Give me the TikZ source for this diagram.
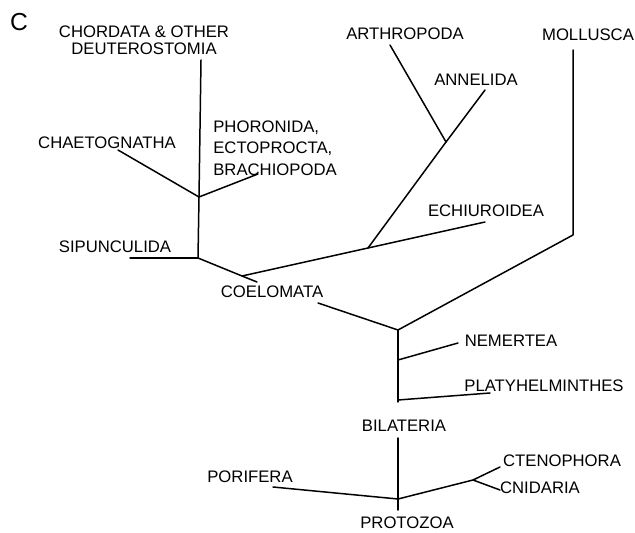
\documentclass[tikz,border=0pt]{standalone}
\usepackage{fontspec}
\setmainfont{Liberation Sans}
\usetikzlibrary{positioning}

\begin{document}
\begin{tikzpicture}[
x=0.02cm, y=-0.02cm,
taxon/.style={
    font=\fontsize{9.5}{9.7}\selectfont,
    inner sep=0pt
},
branch/.style={
    draw,
    line width=0.85pt,
    line cap=round,
    line join=round
}
]
\useasboundingbox (0,0) rectangle (635,533);

% labels
\node[font=\fontsize{14}{14}\selectfont, inner sep=0pt] (fig) at (19,22) {C};
\node[taxon, align=center] (chord) at (144,40) {CHORDATA \& OTHER\\DEUTEROSTOMIA};
\node[taxon] (chaet) at (107,143) {CHAETOGNATHA};
\node[taxon, align=left, anchor=west, font=\fontsize{9.5}{12.2}\selectfont] (phor) at (213,148) {PHORONIDA,\\ECTOPROCTA,\\BRACHIOPODA};
\node[taxon] (sipun) at (115,247) {SIPUNCULIDA};
\node[taxon] (coel) at (272,292) {COELOMATA};
\node[taxon] (arth) at (405,34) {ARTHROPODA};
\node[taxon] (anne) at (476,80) {ANNELIDA};
\node[taxon] (echi) at (486,211) {ECHIUROIDEA};
\node[taxon] (moll) at (588,35) {MOLLUSCA};
\node[taxon] (neme) at (511,341) {NEMERTEA};
\node[taxon] (platy) at (544,386) {PLATYHELMINTHES};
\node[taxon] (bila) at (404,426) {BILATERIA};
\node[taxon] (pori) at (250,477) {PORIFERA};
\node[taxon] (cten) at (562,461) {CTENOPHORA};
\node[taxon] (cnid) at (540,488) {CNIDARIA};
\node[taxon] (prot) at (407,523) {PROTOZOA};

% junctions
\coordinate (jDeu) at (199,197);
\coordinate (jSip) at (198,258);
\coordinate (jEch) at (242,276);
\coordinate (jAnn) at (368,248);
\coordinate (jArt) at (446,142);
\coordinate (jMol) at (573,235);
\coordinate (jBil) at (398,330);
\coordinate (jNem) at (398,360);
\coordinate (jPla) at (398,400);
\coordinate (jPro) at (398,499);
\coordinate (jCni) at (473,480);

% free ends
\coordinate (eChord) at (201,60);
\coordinate (eChaet) at (118,150);
\coordinate (ePhor) at (258,174);
\coordinate (eSipun) at (130,258);
\coordinate (eCoelA) at (257,282);
\coordinate (eCoelB) at (318,303);
\coordinate (eEchi) at (485,222);
\coordinate (eAnne) at (485,90);
\coordinate (eArth) at (390,45);
\coordinate (eMoll) at (573,50);
\coordinate (eNeme) at (458,343);
\coordinate (ePlaty) at (490,393);
\coordinate (eBilaA) at (398,402);
\coordinate (eBilaB) at (398,438);
\coordinate (eProt) at (398,510);
\coordinate (ePori) at (273,487);
\coordinate (eCten) at (500,467);
\coordinate (eCnid) at (500,490);

% tree
\draw[branch] (eChord) -- (jDeu) -- (jSip) -- (jEch) -- (eCoelA);
\foreach \a/\b in {jDeu/eChaet, jDeu/ePhor, jSip/eSipun, jEch/jAnn, jAnn/eEchi,
                   jAnn/jArt, jArt/eAnne, jArt/eArth}
    \draw[branch] (\a) -- (\b);
\draw[branch] (eCoelB) -- (jBil) -- (jMol) -- (eMoll);
\draw[branch] (jBil) -- (eBilaA);
\foreach \a/\b in {jNem/eNeme, jPla/ePlaty}
    \draw[branch] (\a) -- (\b);
\draw[branch] (eBilaB) -- (eProt);
\draw[branch] (ePori) -- (jPro) -- (jCni) -- (eCten);
\draw[branch] (jCni) -- (eCnid);
\end{tikzpicture}
\end{document}
